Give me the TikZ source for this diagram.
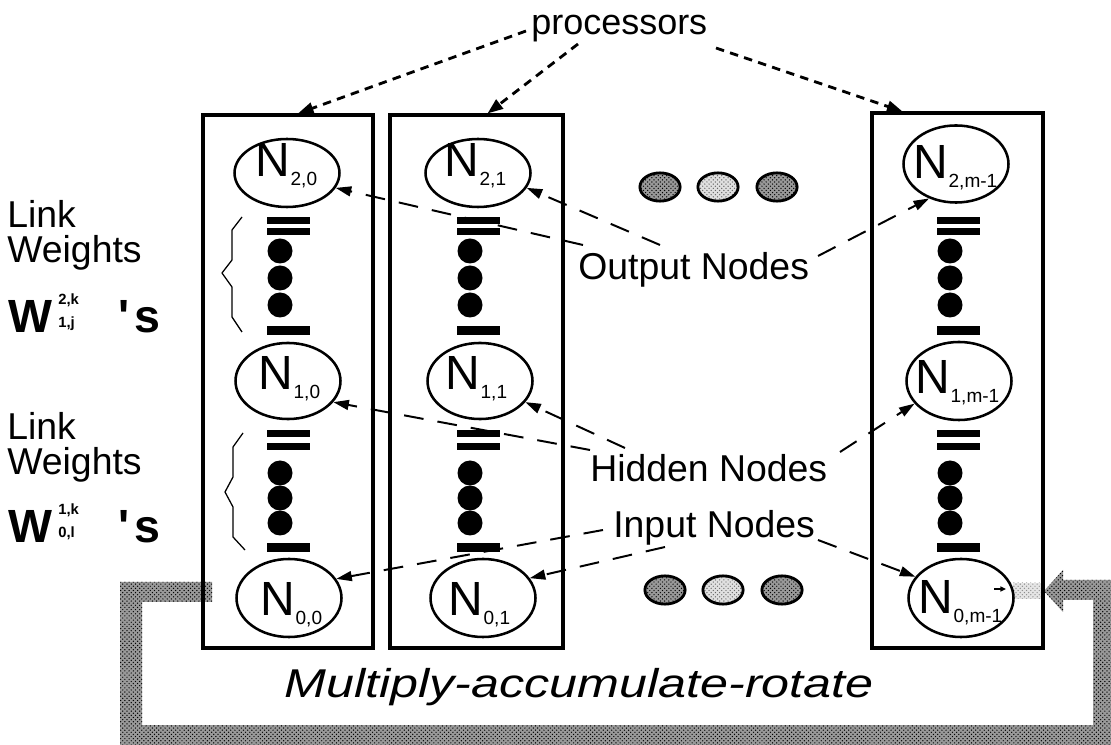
\documentclass[tikz,border=0pt]{standalone}
\usepackage{fontspec}
\setmainfont{Liberation Sans}
\newfontfamily\plainsans{Liberation Sans}
\usetikzlibrary{shapes.geometric,arrows.meta,patterns,calc}

% lowered index after a node letter
\newcommand\nsub[1]{\kern0.5pt\raisebox{-6pt}{\fontsize{13.5}{13.5}\selectfont #1}}

\tikzset{
  procbox/.style={draw, line width=2.2pt, inner sep=0pt},
  neuron/.style={draw, ellipse, line width=1.8pt, inner sep=0pt, minimum width=74.4pt},
  nlabel/.style={anchor=base west, inner sep=0pt, font=\fontsize{34}{34}\selectfont},
  txt/.style={anchor=base west, inner sep=0pt, font=\fontsize{26.5}{28}\selectfont},
  wbig/.style={anchor=base west, inner sep=0pt, font=\plainsans\bfseries\fontsize{33}{33}\selectfont},
  wsmall/.style={anchor=base west, inner sep=0pt, font=\bfseries\fontsize{10.5}{10.5}\selectfont},
  pointer/.style={dash pattern=on 14pt off 10pt, line width=1.4pt,
    -{Triangle[length=11pt,width=7pt]}},
  procptr/.style={dash pattern=on 6pt off 4.5pt, line width=2pt,
    -{Triangle[length=11pt,width=8pt]}},
  bar/.style={fill=black},
  dot/.style={fill=black},
  band/.style={pattern=crosshatch dots, pattern color=black, preaction={fill=black!40}},
  bandlight/.style={pattern=crosshatch dots, pattern color=black!45, preaction={fill=black!10}},
  brace/.style={line width=0.9pt, line join=round},
  etc/.style={draw, ellipse, line width=2pt, inner sep=0pt, minimum width=28.5pt, minimum height=20pt}
}

\begin{document}
\begin{tikzpicture}[x=0.7087pt,y=-0.7087pt]
\useasboundingbox (0,0) rectangle (1111,745);

% rotation path under the processor row
\path[band] (212,582) -- (120,582) -- (120,760) -- (1120,760) -- (1120,580)
  -- (1063,580) -- (1063,570) -- (1044,591) -- (1063,612) -- (1063,600)
  -- (1093,600) -- (1093,725) -- (142,725) -- (142,602) -- (212,602) -- cycle;
\path[bandlight] (1013,583) rectangle (1042,599);
\draw[line width=1.2pt, -{Triangle[length=4pt,width=3.5pt]}] (994,589) -- (1006,589);

% processors
\node[procbox, minimum width=120.5pt, minimum height=377.7pt] (box1) at (288,381.5) {};
\node[procbox, minimum width=122.6pt, minimum height=377.7pt] (box2) at (476.5,381.5) {};
\node[procbox, minimum width=121.2pt, minimum height=379.1pt] (box3) at (957.5,380.5) {};

% neurons
\node[neuron, minimum height=48.2pt] (n20) at (287,173) {};
\node[neuron, minimum height=48.2pt] (n21) at (478,173) {};
\node[neuron, minimum height=54.6pt] (n2m) at (956,164) {};
\node[neuron, minimum height=53.9pt] (n10) at (288,381) {};
\node[neuron, minimum height=53.9pt] (n11) at (480,381) {};
\node[neuron, minimum height=55.3pt] (n1m) at (959,381) {};
\node[neuron, minimum height=55.3pt] (n00) at (289,598) {};
\node[neuron, minimum height=55.3pt] (n01) at (483,598) {};
\node[neuron, minimum height=55.3pt] (n0m) at (961,598) {};

\node[nlabel] (t20) at (255,177) {N\nsub{2,0}};
\node[nlabel] (t21) at (444,177) {N\nsub{2,1}};
\node[nlabel] (t2m) at (913,179) {N\nsub{2,m-1}};
\node[nlabel] (t10) at (258,390) {N\nsub{1,0}};
\node[nlabel] (t11) at (445,390) {N\nsub{1,1}};
\node[nlabel] (t1m) at (915,394) {N\nsub{1,m-1}};
\node[nlabel] (t00) at (260,616) {N\nsub{0,0}};
\node[nlabel] (t01) at (448,616) {N\nsub{0,1}};
\node[nlabel] (t0m) at (918,614) {N\nsub{0,m-1}};

% link weight stacks between the layers
\foreach \bx/\dx in {288/280, 478/470, 958/950} {
  \fill[bar] (\bx-21.5,217) rectangle (\bx+21.5,224);
  \fill[bar] (\bx-21.5,228) rectangle (\bx+21.5,235);
  \foreach \dy in {251,278,305} \fill[dot] (\dx,\dy) ellipse [x radius=12.5, y radius=12.5];
  \fill[bar] (\bx-21.5,326) rectangle (\bx+21.5,335);
  \fill[bar] (\bx-21.5,430) rectangle (\bx+21.5,437);
  \fill[bar] (\bx-21.5,443) rectangle (\bx+21.5,450);
  \foreach \dy in {473,498,523} \fill[dot] (\dx,\dy) ellipse [x radius=12.5, y radius=12.5];
  \fill[bar] (\bx-21.5,543) rectangle (\bx+21.5,552);
}

% braces
\draw[brace] (242,217) -- (232,230) -- (232,260) -- (222,273) -- (232,287) -- (232,317) -- (242,332);
\draw[brace] (243,433) -- (233,447) -- (233,477) -- (225,492) -- (233,507) -- (233,537) -- (245,550);

% further processors
\node[etc, pattern=crosshatch dots, preaction={fill=black!40}] (eu1) at (660,187) {};
\node[etc, pattern=crosshatch dots, pattern color=black!60, preaction={fill=black!12}] (eu2) at (718,187) {};
\node[etc, pattern=crosshatch dots, preaction={fill=black!40}] (eu3) at (777,187) {};
\node[etc, pattern=crosshatch dots, preaction={fill=black!40}] (ed1) at (665,590) {};
\node[etc, pattern=crosshatch dots, pattern color=black!60, preaction={fill=black!12}] (ed2) at (723,590) {};
\node[etc, pattern=crosshatch dots, preaction={fill=black!40}] (ed3) at (782,590) {};

% left-hand labels
\node[txt] (lk1) at (7,228) {Link};
\node[txt] (wt1) at (7,263) {Weights};
\node[wbig] (w1) at (8,333) {W};
\node[wsmall] (w1sup) at (58,305) {2,k};
\node[wsmall] (w1sub) at (58,328) {1,j};
\node[wbig] (s1) at (118,333) {'\kern3.5pt s};
\node[txt] (lk2) at (7,440) {Link};
\node[txt] (wt2) at (7,475) {Weights};
\node[wbig] (w2) at (8,543) {W};
\node[wsmall] (w2sup) at (58,515) {1,k};
\node[wsmall] (w2sub) at (58,538) {0,l};
\node[wbig] (s2) at (118,543) {'\kern3.5pt s};

% layer labels
\node[anchor=base west, inner sep=0pt, font=\fontsize{25.5}{27}\selectfont] (proc) at (531,35) {processors};
\node[txt] (outl) at (578,280) {Output Nodes};
\node[txt] (hidl) at (590,482) {Hidden Nodes};
\node[txt] (inl) at (613,538) {Input Nodes};
\node[anchor=base west, inner sep=0pt, xscale=1.25, font=\itshape\fontsize{28.5}{30}\selectfont] (mar) at (284,697) {Multiply-accumulate-rotate};

% pointers
\coordinate (pA) at (526,31);
\coordinate (pB) at (578,44);
\coordinate (pC) at (716,48);
\draw[procptr] (pA) -- ($(box1.north)+(10,0)$);
\draw[procptr] (pB) -- ($(box2.north)+(11,0)$);
\draw[procptr] (pC) -- ($(box3.north)+(-55,0)$);

\coordinate (oA) at (583,245);
\coordinate (oB) at (660,245);
\coordinate (oC) at (818,256);
\coordinate (hA) at (590,450);
\coordinate (hB) at (625,448);
\coordinate (hC) at (840,452);
\coordinate (iA) at (603,530);
\coordinate (iB) at (665,547);
\coordinate (iC) at (818,540);
\draw[pointer] (oA) -- (n20.-17);
\draw[pointer] (oB) -- (n21.-17);
\draw[pointer] (oC) -- (n2m.-128);
\draw[pointer] (hA) -- (n10.-25);
\draw[pointer] (hB) -- (n11.-25);
\draw[pointer] (hC) -- (n1m.-153);
\draw[pointer] (iA) -- (n00.22);
\draw[pointer] (iB) -- (n01.23);
\draw[pointer] (iC) -- (n0m.155);
\end{tikzpicture}
\end{document}
